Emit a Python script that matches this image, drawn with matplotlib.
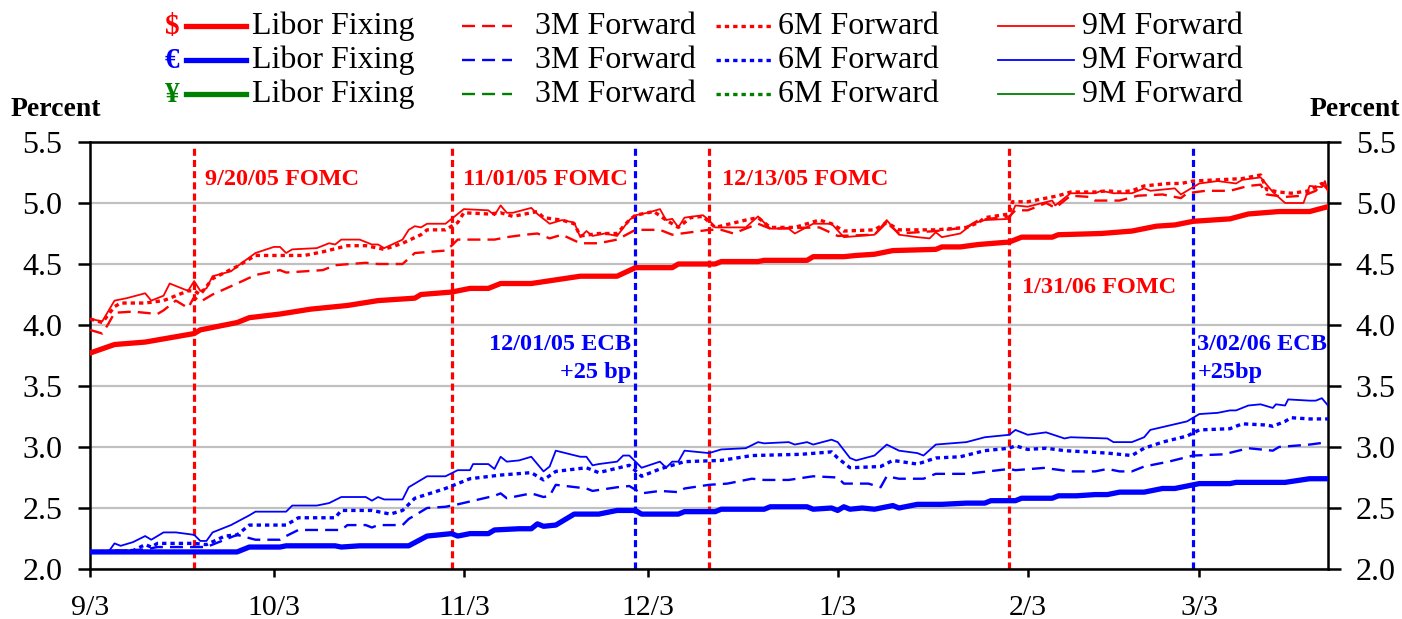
import numpy as np
import matplotlib.pyplot as plt
import matplotlib.dates as mdates
from matplotlib.lines import Line2D
from datetime import date

plt.rcParams['font.family'] = ['Liberation Serif', 'DejaVu Serif']

RED, BLUE, GREEN = '#ff0000', '#0000ff', '#008000'
START = date(2005, 9, 3)

# days since 9/3/05 and percent
usd_libor_d = [0, 4, 9, 17, 18, 24, 26, 31, 36, 42, 47, 53, 54, 59, 62, 65, 67, 72, 80, 86, 89, 95, 96, 102,
               103, 109, 110, 117, 118, 123, 125, 128, 131, 138, 139, 142, 145, 150, 152, 157, 158, 165, 170,
               174, 177, 180, 186, 189, 194, 199, 202]
usd_libor_v = [3.77, 3.84, 3.86, 3.93, 3.96, 4.02, 4.06, 4.09, 4.13, 4.16, 4.20, 4.22, 4.25, 4.27, 4.30, 4.30,
               4.34, 4.34, 4.40, 4.40, 4.47, 4.47, 4.50, 4.50, 4.52, 4.52, 4.53, 4.53, 4.56, 4.56, 4.57, 4.58,
               4.61, 4.62, 4.64, 4.64, 4.66, 4.68, 4.72, 4.72, 4.74, 4.75, 4.77, 4.81, 4.82, 4.85, 4.87, 4.91,
               4.93, 4.93, 4.97]

usd_3m_d = [0, 2, 3, 4, 7, 11, 12, 14, 16, 17, 18, 20, 24, 27, 31, 32, 38, 40, 45, 47, 51, 53, 58, 59, 60, 66,
            68, 71, 73, 75, 77, 80, 83, 86, 89, 93, 95, 98, 101, 103, 105, 109, 111, 119, 122, 128, 130, 132,
            138, 143, 145, 150, 151, 153, 156, 157.5, 160, 163, 164, 168, 171, 175, 178, 179, 182, 186, 189,
            191, 192, 195, 198, 200, 201, 202]
usd_3m_v = [3.96, 3.93, 4.01, 4.10, 4.11, 4.09, 4.12, 4.20, 4.14, 4.23, 4.19, 4.25, 4.34, 4.41, 4.45, 4.43,
            4.45, 4.49, 4.51, 4.50, 4.50, 4.59, 4.61, 4.65, 4.70, 4.70, 4.72, 4.74, 4.75, 4.71, 4.74, 4.67,
            4.67, 4.70, 4.78, 4.78, 4.74, 4.76, 4.78, 4.78, 4.75, 4.83, 4.79, 4.80, 4.73, 4.74, 4.84, 4.75,
            4.77, 4.80, 4.86, 4.89, 4.94, 4.94, 5.00, 4.96, 5.06, 5.05, 5.02, 5.02, 5.06, 5.07, 5.04, 5.08,
            5.10, 5.10, 5.14, 5.15, 5.07, 5.05, 5.06, 5.10, 5.16, 5.11]

usd_6m_d = [0, 2, 4, 5, 9, 12, 16, 17, 18, 20, 24, 27, 31, 35, 38, 42, 45, 48, 51, 54, 55, 58, 60, 61, 65, 67,
            69, 72, 73, 74, 77, 79, 80, 83, 86, 88, 89, 92, 94, 96, 98, 100, 102, 107, 109, 111, 115, 119, 121,
            123, 128, 130, 132, 138, 143, 145, 146, 150, 150.5, 153, 156, 158, 160, 164, 166, 168, 170, 172,
            176, 178, 180, 184, 188, 191, 192, 194, 196, 199, 201, 202]
usd_6m_v = [4.05, 4.02, 4.15, 4.18, 4.18, 4.20, 4.28, 4.28, 4.25, 4.38, 4.48, 4.57, 4.57, 4.57, 4.60, 4.65,
            4.65, 4.62, 4.67, 4.74, 4.78, 4.78, 4.84, 4.92, 4.91, 4.92, 4.89, 4.92, 4.93, 4.88, 4.86, 4.83,
            4.73, 4.75, 4.75, 4.86, 4.90, 4.93, 4.86, 4.80, 4.88, 4.89, 4.80, 4.86, 4.88, 4.80, 4.80, 4.86,
            4.83, 4.77, 4.78, 4.84, 4.78, 4.78, 4.80, 4.84, 4.88, 4.91, 5.01, 5.01, 5.04, 5.06, 5.09, 5.09,
            5.10, 5.09, 5.10, 5.14, 5.16, 5.16, 5.18, 5.19, 5.20, 5.23, 5.11, 5.09, 5.08, 5.10, 5.16, 5.12]

usd_9m_d = [0, 2, 4, 6, 9, 10, 12, 13, 16, 17, 18, 19, 20, 23, 24, 27, 30, 31, 32, 33, 37, 39, 40, 41, 44, 46,
            47, 48, 51, 52, 53, 54, 55, 58, 59, 61, 65, 66, 67, 68, 69, 72, 73, 75, 77, 79, 80, 81, 82, 84, 86,
            88, 89, 91, 93, 94, 95, 96, 97, 100, 101, 102, 107, 109, 111, 114, 115, 118, 121, 123, 128, 130,
            132, 135, 137, 138, 139, 142, 144, 146, 150, 151, 153, 157, 157.5, 160, 164, 165, 167, 170, 172,
            173, 177, 178, 181, 184, 187, 188, 191, 193, 195, 198, 199, 201, 201.5, 202]
usd_9m_v = [4.05, 4.03, 4.20, 4.22, 4.26, 4.20, 4.24, 4.34, 4.28, 4.36, 4.28, 4.30, 4.40, 4.44, 4.48, 4.59,
            4.64, 4.64, 4.59, 4.62, 4.63, 4.67, 4.66, 4.70, 4.70, 4.66, 4.66, 4.63, 4.70, 4.78, 4.81, 4.80,
            4.83, 4.83, 4.87, 4.95, 4.94, 4.90, 4.98, 4.92, 4.92, 4.96, 4.91, 4.83, 4.86, 4.84, 4.72, 4.77,
            4.73, 4.75, 4.73, 4.86, 4.90, 4.92, 4.95, 4.86, 4.87, 4.80, 4.88, 4.90, 4.86, 4.80, 4.80, 4.89,
            4.79, 4.79, 4.75, 4.83, 4.83, 4.72, 4.74, 4.86, 4.74, 4.72, 4.71, 4.76, 4.72, 4.75, 4.83, 4.86,
            4.87, 4.98, 4.97, 5.02, 4.98, 5.08, 5.08, 5.10, 5.08, 5.08, 5.12, 5.10, 5.12, 5.07, 5.16, 5.18,
            5.16, 5.19, 5.21, 5.09, 5.00, 5.00, 5.14, 5.13, 5.18, 5.09]

eur_libor_d = [0, 24, 26, 31, 32, 40, 41, 44, 52, 55, 59, 60, 62, 65, 66, 70, 72, 73, 74, 76, 79, 83, 86, 89,
               90, 96, 97, 102, 103, 110, 111, 117, 118, 121, 122, 123, 124, 126, 128, 131, 132, 135, 139, 143,
               146, 147, 151, 152, 157, 158, 161, 164, 166, 168, 172, 175, 177, 179, 181, 186, 187, 195, 199, 202]
eur_libor_v = [2.14, 2.14, 2.18, 2.18, 2.19, 2.19, 2.18, 2.19, 2.19, 2.27, 2.29, 2.27, 2.29, 2.29, 2.32, 2.33,
               2.33, 2.37, 2.35, 2.36, 2.45, 2.45, 2.48, 2.48, 2.45, 2.45, 2.47, 2.47, 2.49, 2.49, 2.51, 2.51,
               2.49, 2.50, 2.48, 2.51, 2.49, 2.50, 2.49, 2.52, 2.50, 2.53, 2.53, 2.54, 2.54, 2.56, 2.56, 2.58,
               2.58, 2.60, 2.60, 2.61, 2.61, 2.63, 2.63, 2.66, 2.66, 2.68, 2.70, 2.70, 2.71, 2.71, 2.74, 2.74]

eur_3m_d = [0, 9, 11, 17, 19, 24, 27, 31, 32, 34, 41, 42, 45, 46, 47, 51, 52, 55, 58, 60, 66, 67, 68, 72, 74,
            75, 76, 81, 82, 86, 88, 90, 93, 96, 97, 101, 104, 108, 110, 114, 118, 122, 123, 127, 129, 130, 132,
            136, 138, 143, 150, 151, 156, 157, 160, 164, 166, 168, 170, 172, 176, 180, 185, 189, 193, 194,
            199, 202]
eur_3m_v = [2.14, 2.16, 2.18, 2.18, 2.18, 2.28, 2.24, 2.24, 2.27, 2.32, 2.32, 2.36, 2.36, 2.34, 2.36, 2.36,
            2.41, 2.50, 2.51, 2.53, 2.60, 2.62, 2.58, 2.62, 2.59, 2.60, 2.69, 2.66, 2.64, 2.67, 2.68, 2.62,
            2.64, 2.63, 2.66, 2.69, 2.70, 2.74, 2.73, 2.73, 2.76, 2.75, 2.70, 2.70, 2.67, 2.76, 2.74, 2.74,
            2.78, 2.78, 2.82, 2.81, 2.83, 2.82, 2.80, 2.80, 2.82, 2.80, 2.80, 2.84, 2.88, 2.93, 2.94, 2.99,
            2.97, 3.00, 3.02, 3.04]

eur_6m_d = [0, 7, 9, 10, 11, 17, 19, 22, 24, 26, 32, 34, 40, 41, 46, 49, 51, 53, 58, 62, 67, 72, 74, 76, 81,
            83, 88, 90, 93, 97, 103, 108, 116, 121, 122, 124, 129, 131, 135, 138, 142, 146, 150, 151, 153, 156,
            159, 166, 170, 172, 175, 179, 181, 186, 188, 192, 193, 195, 196, 199, 202]
eur_6m_v = [2.14, 2.15, 2.20, 2.18, 2.21, 2.21, 2.20, 2.27, 2.28, 2.36, 2.36, 2.42, 2.42, 2.48, 2.48, 2.45,
            2.48, 2.58, 2.66, 2.74, 2.77, 2.79, 2.73, 2.80, 2.83, 2.79, 2.85, 2.76, 2.82, 2.88, 2.89, 2.93,
            2.94, 2.96, 2.91, 2.83, 2.84, 2.89, 2.86, 2.91, 2.92, 2.97, 2.99, 3.01, 2.98, 2.99, 2.97, 2.95,
            2.93, 2.99, 3.04, 3.09, 3.14, 3.15, 3.19, 3.18, 3.17, 3.21, 3.24, 3.23, 3.23]

eur_9m_d = [0, 2, 3, 4, 5, 7, 9, 10, 12, 14, 17, 18, 19, 20, 23, 26, 27, 32, 33, 37, 39, 41, 45, 46, 47, 48,
            51, 52, 55, 58, 60, 62, 62.5, 65, 66, 67, 68, 70, 72, 74, 75, 76, 80, 81, 82, 83, 86, 87, 88, 90,
            93, 94, 95, 96, 97, 101, 103, 107, 109, 110, 114, 115, 117, 118, 121, 122, 124, 125, 128, 130,
            132, 135, 136, 138, 143, 146, 150, 151, 153, 156, 159, 160, 166, 167, 170, 172, 173, 179, 181,
            184, 186, 187, 189, 191, 193, 193.5, 195, 195.5, 199, 200, 201, 202]
eur_9m_v = [2.14, 2.15, 2.14, 2.21, 2.19, 2.22, 2.27, 2.24, 2.30, 2.30, 2.28, 2.23, 2.23, 2.30, 2.36, 2.44,
            2.47, 2.47, 2.52, 2.52, 2.54, 2.59, 2.59, 2.56, 2.59, 2.57, 2.57, 2.67, 2.76, 2.76, 2.81, 2.81,
            2.86, 2.86, 2.82, 2.92, 2.88, 2.89, 2.92, 2.80, 2.84, 2.97, 2.92, 2.92, 2.85, 2.86, 2.88, 2.93,
            2.93, 2.83, 2.88, 2.83, 2.88, 2.88, 2.97, 2.95, 2.98, 2.99, 3.04, 3.03, 3.04, 3.02, 3.04, 3.02,
            3.06, 3.04, 2.91, 2.89, 2.93, 3.02, 2.97, 2.95, 2.93, 3.02, 3.04, 3.08, 3.10, 3.14, 3.10, 3.12,
            3.07, 3.08, 3.07, 3.04, 3.04, 3.08, 3.14, 3.21, 3.27, 3.28, 3.30, 3.30, 3.34, 3.35, 3.32, 3.35,
            3.34, 3.39, 3.38, 3.38, 3.40, 3.34]

# policy events: (days since 9/3/05, colour)
event_d = [17, 59, 89, 101, 150, 180]
event_c = [RED, RED, BLUE, RED, RED, BLUE]

xtick_d = [0, 30, 61, 91, 122, 153, 181]
xtick_labels = ['9/3', '10/3', '11/3', '12/3', '1/3', '2/3', '3/3']

t0 = mdates.date2num(START)


def to_x(days):
    return t0 + np.asarray(days, dtype=float)


DASH = (0, (5.5, 3))
DOT = (0, (1.3, 1.2))

fig = plt.figure(figsize=(14.02, 6.19), dpi=100)
W, H = 1402, 619
ax = fig.add_axes([90 / W, 50 / H, 1238 / W, 427 / H])

# event lines
ax.vlines(to_x(event_d), 2.0, 5.45, colors=event_c, linestyles=[(0, (2.2, 1.3))], lw=2.3, zorder=1)

ax.plot(to_x(usd_libor_d), usd_libor_v, color=RED, lw=3.8, zorder=3)
ax.plot(to_x(usd_3m_d), usd_3m_v, color=RED, lw=1.7, ls=DASH, zorder=3)
ax.plot(to_x(usd_6m_d), usd_6m_v, color=RED, lw=2.4, ls=DOT, zorder=3)
ax.plot(to_x(usd_9m_d), usd_9m_v, color=RED, lw=1.3, zorder=3)
ax.plot(to_x(eur_libor_d), eur_libor_v, color=BLUE, lw=3.8, zorder=3)
ax.plot(to_x(eur_3m_d), eur_3m_v, color=BLUE, lw=1.7, ls=DASH, zorder=3)
ax.plot(to_x(eur_6m_d), eur_6m_v, color=BLUE, lw=2.4, ls=DOT, zorder=3)
ax.plot(to_x(eur_9m_d), eur_9m_v, color=BLUE, lw=1.3, zorder=3)

ax.set_xlim(to_x(0), to_x(202))
ax.set_ylim(2.0, 5.5)
ax.set_yticks(np.arange(2.0, 5.51, 0.5))
ax.set_yticklabels([f'{v:.1f}' for v in np.arange(2.0, 5.51, 0.5)])
ax.set_xticks(to_x(xtick_d))
ax.set_xticklabels(xtick_labels)
ax.grid(axis='y', color='#c0c0c0', lw=1.6, zorder=0)
ax.set_axisbelow(True)
for s in ax.spines.values():
    s.set_linewidth(1.8)
ax.tick_params(axis='y', direction='out', length=9, width=1.8, pad=11, labelsize=23,
               right=True, labelright=True)
ax.tick_params(axis='x', direction='out', length=6, width=1.8, pad=13, labelsize=21.5)

# event annotations
ann = dict(textcoords='offset points', fontsize=17.5, fontweight='bold', va='center')
ax.annotate('9/20/05 FOMC', xy=(to_x(17), 5.19), xytext=(8, 0), color=RED, **ann)
ax.annotate('11/01/05 FOMC', xy=(to_x(59), 5.19), xytext=(8, 0), color=RED, **ann)
ax.annotate('12/13/05 FOMC', xy=(to_x(101), 5.19), xytext=(9, 0), color=RED, **ann)
ax.annotate('1/31/06 FOMC', xy=(to_x(150), 4.31), xytext=(9, 0), color=RED, **ann)
ax.annotate('12/01/05 ECB', xy=(to_x(89), 3.84), xytext=(-3, 0), color=BLUE, ha='right', **ann)
ax.annotate('+25 bp', xy=(to_x(89), 3.61), xytext=(-3, 0), color=BLUE, ha='right', **ann)
ax.annotate('3/02/06 ECB', xy=(to_x(180), 3.84), xytext=(3, 0), color=BLUE, **ann)
ax.annotate('+25bp', xy=(to_x(180), 3.61), xytext=(3, 0), color=BLUE, **ann)

fig.text(56 / W, 1 - 109 / H, 'Percent', fontsize=20, fontweight='bold', ha='center', va='center')
fig.text(1355 / W, 1 - 109 / H, 'Percent', fontsize=20, fontweight='bold', ha='center', va='center')

# legend, laid out like the original
legend_rows = [('$', RED), ('\u20ac', BLUE), ('\u00a5', GREEN)]
row_y = [26, 60, 94]
legend_cols = [((186, 246), 3.8, '-', 'Libor Fixing', 252),
               ((462, 512), 1.7, DASH, '3M Forward', 535),
               ((716, 772), 2.4, DOT, '6M Forward', 778),
               ((998, 1074), 1.3, '-', '9M Forward', 1082)]
for (sym, col), yp in zip(legend_rows, row_y):
    yf = 1 - yp / H
    fig.text(172 / W, yf, sym, color=col, fontsize=21, fontweight='bold', ha='center', va='center')
    for (x0, x1), lw, ls, label, tx in legend_cols:
        fig.add_artist(Line2D([x0 / W, x1 / W], [yf, yf], transform=fig.transFigure,
                              color=col, lw=lw, ls=ls))
        fig.text(tx / W, yf, label, fontsize=23, va='center')

fig.savefig('out.png', dpi=100)
